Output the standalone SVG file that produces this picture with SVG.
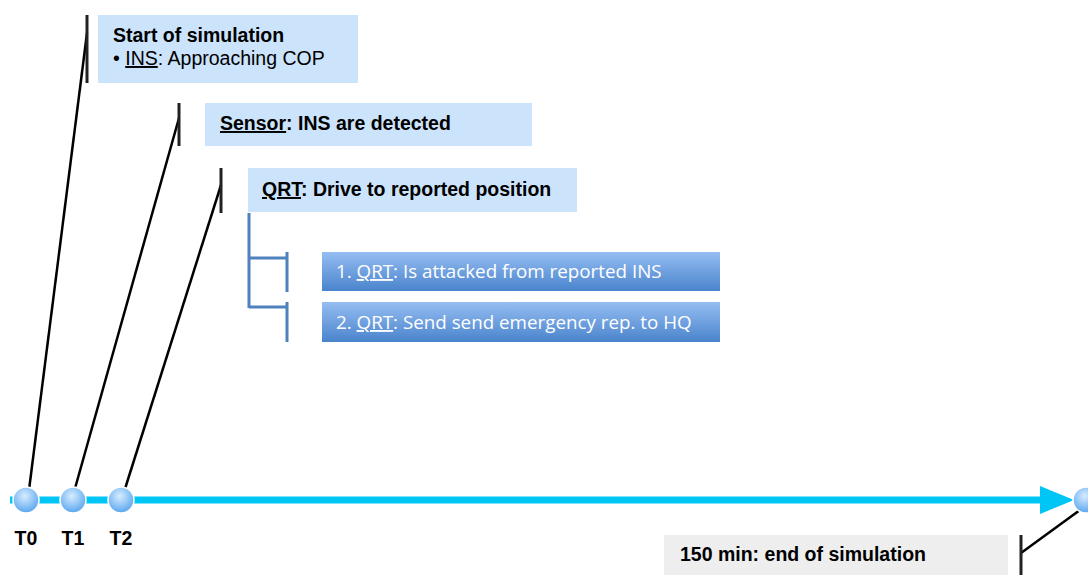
<svg xmlns="http://www.w3.org/2000/svg" width="1088" height="575" viewBox="0 0 1088 575">
<defs>
<style>
.lb{fill:#cce4fb}
.t{font-family:"Liberation Sans",Arial,sans-serif;font-size:19.5px;fill:#000}
.b{font-weight:bold}
.w{font-family:"Open Sans","Noto Sans",sans-serif;font-size:18.8px;fill:#fff}
.bar{stroke:#222;stroke-width:3}
.lead{stroke:#000;stroke-width:2.5;fill:none}
.tree{stroke:#4f81bd;stroke-width:3;fill:none}
</style>
<linearGradient id="bg" x1="0" y1="0" x2="0" y2="1">
<stop offset="0" stop-color="#95bdf2"/>
<stop offset="1" stop-color="#4a84cc"/>
</linearGradient>
<radialGradient id="cg" cx="0.45" cy="0.35" r="0.65">
<stop offset="0" stop-color="#d6ecff"/>
<stop offset="1" stop-color="#5aa6ee"/>
</radialGradient>
</defs>

<g id="connectors">
<line x1="10" y1="500" x2="1045" y2="500" stroke="#00c6f5" stroke-width="7"/>
<polygon points="1040,486 1074,500 1040,514" fill="#00c6f5"/>
<line class="lead" x1="87" y1="33" x2="29" y2="490"/>
<line class="lead" x1="179" y1="118" x2="74" y2="492"/>
<line class="lead" x1="221" y1="185" x2="124" y2="492"/>
<line class="lead" x1="1021" y1="553" x2="1080" y2="510"/>
<path class="tree" d="M249,213 V308 M249,258 H287 M287,252 V292 M249,307 H287 M287,302 V342"/>
</g>

<g id="n-start">
<rect class="lb" x="98" y="15" width="260" height="68"/>
<line class="bar" x1="87" y1="15" x2="87" y2="83"/>
<text class="t b" x="113" y="42">Start of simulation</text>
<text class="t" x="113" y="65">• <tspan text-decoration="underline">INS</tspan>: Approaching COP</text>
</g>

<g id="n-sensor">
<rect class="lb" x="205" y="103" width="327" height="43"/>
<line class="bar" x1="179" y1="103" x2="179" y2="146"/>
<text class="t b" x="220" y="130"><tspan text-decoration="underline">Sensor</tspan>: INS are detected</text>
</g>

<g id="n-qrt">
<rect class="lb" x="248" y="168" width="329" height="44"/>
<line class="bar" x1="221" y1="168" x2="221" y2="213"/>
<text class="t b" x="262" y="196"><tspan text-decoration="underline">QRT</tspan>: Drive to reported position</text>
</g>

<g id="n-attack">
<rect x="322" y="252" width="398" height="39" fill="url(#bg)"/>
<text class="w" x="336" y="278">1. <tspan text-decoration="underline">QRT</tspan>: Is attacked from reported INS</text>
</g>

<g id="n-report">
<rect x="322" y="302" width="398" height="40" fill="url(#bg)"/>
<text class="w" x="336" y="329">2. <tspan text-decoration="underline">QRT</tspan>: Send send emergency rep. to HQ</text>
</g>

<g id="n-t0">
<circle cx="26" cy="500" r="13" fill="url(#cg)" stroke="#fff" stroke-width="1.5"/>
<text class="t b" x="26" y="545" text-anchor="middle">T0</text>
</g>
<g id="n-t1">
<circle cx="73" cy="500" r="13" fill="url(#cg)" stroke="#fff" stroke-width="1.5"/>
<text class="t b" x="73" y="545" text-anchor="middle">T1</text>
</g>
<g id="n-t2">
<circle cx="121" cy="500" r="13" fill="url(#cg)" stroke="#fff" stroke-width="1.5"/>
<text class="t b" x="121" y="545" text-anchor="middle">T2</text>
</g>

<g id="n-end">
<circle cx="1086" cy="500" r="13" fill="url(#cg)" stroke="#fff" stroke-width="1.5"/>
<rect x="664" y="535" width="344" height="40" fill="#eeeeee"/>
<line class="bar" x1="1021" y1="535" x2="1021" y2="575"/>
<text class="t b" x="680" y="561">150 min: end of simulation</text>
</g>
</svg>
